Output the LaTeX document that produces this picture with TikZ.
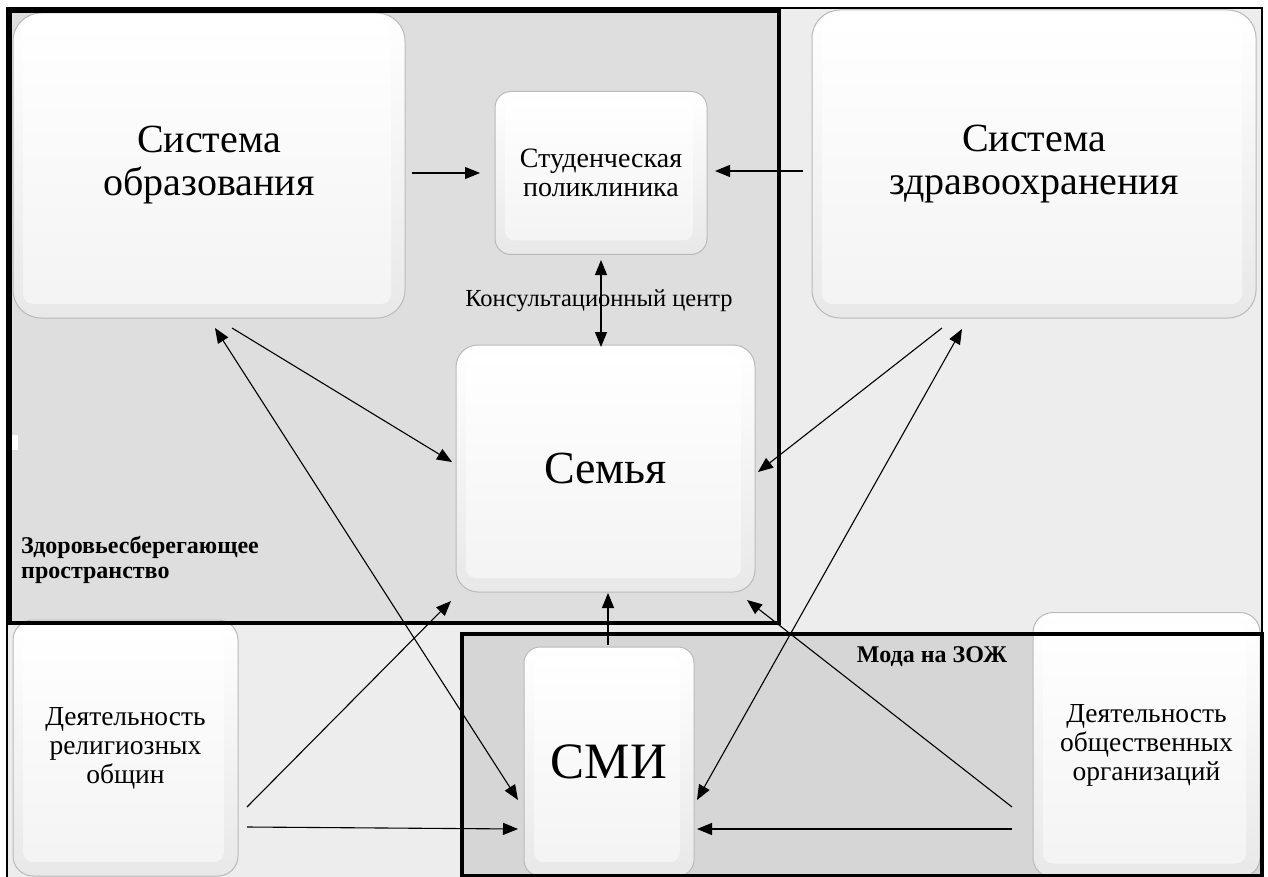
\documentclass[tikz,border=0pt]{standalone}
\usepackage{fontspec}
\setmainfont{Liberation Serif}
\usetikzlibrary{arrows.meta}
\begin{document}
\begin{tikzpicture}[x=1pt,y=-1pt,
  tip/.tip={Triangle[length=15pt,width=12pt]},
  arr/.style={-tip, line width=1.1pt},
  darr/.style={tip-tip, line width=1.1pt},
  bev/.style={rounded corners=#1, fill=white, draw=gray!55, line width=1pt,
    inner sep=0pt, align=center,
    path picture={
      \shade[top color=white, bottom color=gray!18]
        (path picture bounding box.south west) rectangle (path picture bounding box.north east);
      \shade[rounded corners=10pt, top color=white, middle color=white, bottom color=gray!9]
        ([shift={(10pt,14pt)}]path picture bounding box.south west) rectangle
        ([shift={(-14pt,-10pt)}]path picture bounding box.north east);
    }},
  bigtxt/.style={font=\fontsize{40}{43}\selectfont},
  midtxt/.style={font=\fontsize{28}{29}\selectfont},
  lbl/.style={font=\bfseries\fontsize{24}{25}\selectfont, inner sep=0pt}
]
\useasboundingbox (0,0) rectangle (1268,877);
\fill[white] (0,0) rectangle (1268,877);
% outer background and frames
\fill[gray!14] (7,8) rectangle (1262,880);
\draw[line width=2pt] (7,880) -- (7,8) -- (1262,8) -- (1262,880);
\fill[gray!26] (10,11) rectangle (779,623);
\fill[gray!32] (462,634) rectangle (1262,876);
\fill[white] (12,435) rectangle (18,450);

% boxes
\node[bev=28pt, bigtxt, minimum width=392pt, minimum height=305pt] (edu) at (209,165.5) {Система\\образования};
\node[bev=16pt, midtxt, minimum width=212pt, minimum height=163pt] (poli) at (601,173) {Студенческая\\поликлиника};
\node[bev=28pt, bigtxt, minimum width=444pt, minimum height=308pt] (health) at (1034,164) {Система\\здравоохранения};
\node[bev=22pt, font=\fontsize{46}{50}\selectfont, minimum width=299pt, minimum height=247pt] (semya) at (605.5,468.5) {Семья};
\node[bev=20pt, font=\fontsize{27.5}{29}\selectfont, minimum width=225pt, minimum height=256pt] (relig) at (125.5,748) {Деятельность\\религиозных\\общин};
\node[bev=16pt, font=\fontsize{51}{54}\selectfont, minimum width=170pt, minimum height=229pt] (smi) at (609,761.5) {СМИ};
\node[bev=20pt, font=\fontsize{27.5}{29}\selectfont, minimum width=227pt, minimum height=265pt] (obsh) at (1146.5,745) {Деятельность\\общественных\\организаций};

% frame strokes
\draw[line width=3.5pt] (10,11) rectangle (779,623);
\draw[line width=3.5pt] (462,634) rectangle (1262,876);

% labels
\node[lbl, anchor=west, align=left] (zdor) at (21,560) {Здоровьесберегающее\\пространство};
\node[lbl] (moda) at (932,657) {Мода на ЗОЖ};
\node[font=\fontsize{24.5}{28}\selectfont, inner sep=0pt] (kons) at (599,301) {Консультационный центр};

% connector end points
\coordinate (eduR) at (412,173);  \coordinate (poliL) at (480,173);
\coordinate (healthL) at (803,171); \coordinate (poliR) at (715,171);
\coordinate (poliB) at (601,260); \coordinate (semyaT) at (601,347);
\coordinate (eduB1) at (232,328); \coordinate (semyaL) at (452,462);
\coordinate (eduB2) at (215,328); \coordinate (smiL1) at (518,800);
\coordinate (healthB1) at (942,328); \coordinate (semyaR) at (758,472);
\coordinate (healthB2) at (962,329); \coordinate (smiR1) at (697,800);
\coordinate (religR1) at (247,807); \coordinate (semyaBL) at (451,601);
\coordinate (religR2) at (247,827); \coordinate (smiL2) at (518,829);
\coordinate (smiT) at (608,645); \coordinate (semyaB) at (608,593);
\coordinate (obshL1) at (1012,807); \coordinate (semyaBR) at (747,600);
\coordinate (obshL2) at (1012,829); \coordinate (smiR2) at (697,829);

% connectors
\draw[arr] (eduR) -- (poliL);
\draw[arr] (healthL) -- (poliR);
\draw[darr] (poliB) -- (semyaT);
\draw[arr] (eduB1) -- (semyaL);
\draw[darr] (eduB2) -- (smiL1);
\draw[arr] (healthB1) -- (semyaR);
\draw[darr] (healthB2) -- (smiR1);
\draw[arr] (religR1) -- (semyaBL);
\draw[arr] (religR2) -- (smiL2);
\draw[arr] (smiT) -- (semyaB);
\draw[arr] (obshL1) -- (semyaBR);
\draw[arr] (obshL2) -- (smiR2);
\end{tikzpicture}
\end{document}
